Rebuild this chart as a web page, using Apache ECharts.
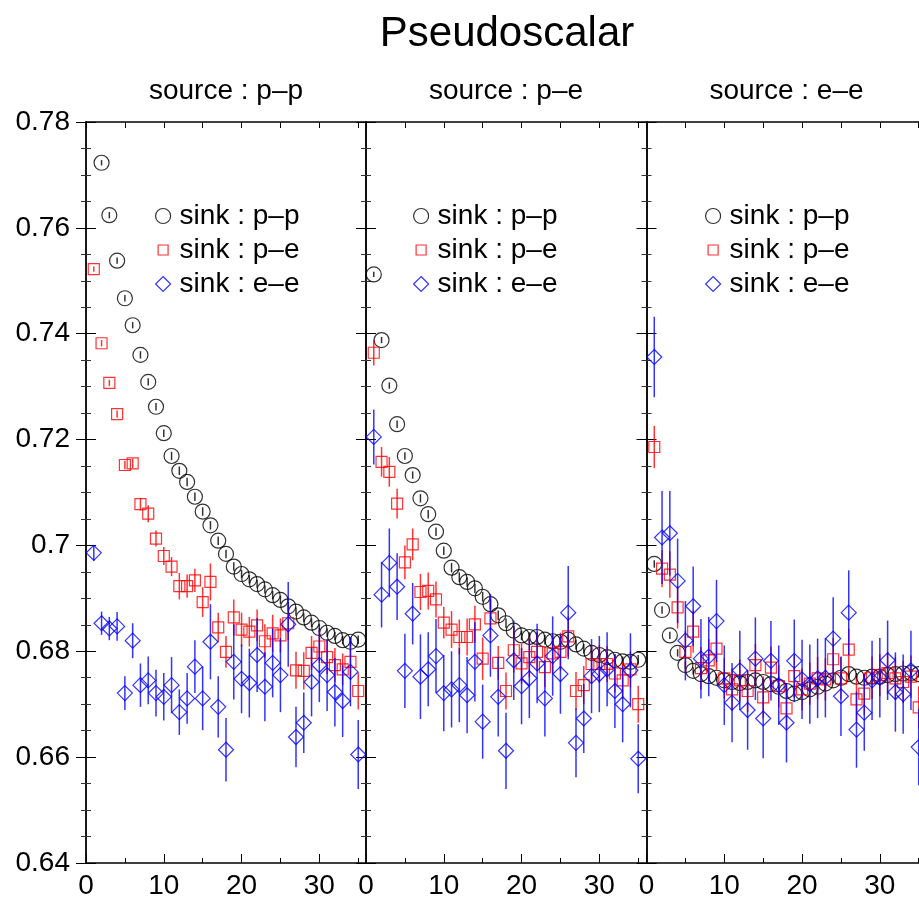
<!DOCTYPE html>
<html>
<head>
<meta charset="utf-8">
<script src="https://cdn.jsdelivr.net/npm/echarts@6/dist/echarts.min.js"></script>
<style>
  html, body { margin: 0; padding: 0; background: #fff; }
  #chart { width: 919px; height: 900px; }
</style>
</head>
<body>
<div id="chart"></div>
<script>
const FONT = '"Liberation Sans", Arial, Helvetica, sans-serif'

// time slices
const tValues = [1, 2, 3, 4, 5, 6, 7, 8, 9, 10, 11, 12, 13, 14, 15, 16, 17, 18, 19, 20,
  21, 22, 23, 24, 25, 26, 27, 28, 29, 30, 31, 32, 33, 34, 35]

const panelTitles = ['source : p\u2013p', 'source : p\u2013e', 'source : e\u2013e']
const sinkNames = ['sink : p\u2013p', 'sink : p\u2013e', 'sink : e\u2013e']
const xTicks = [0, 10, 20, 30]
const yTicks = [0.64, 0.66, 0.68, 0.7, 0.72, 0.74, 0.76, 0.78]

// source p-p
const srcPP_sinkPP = [null, 0.7723, 0.7624, 0.7538, 0.7467, 0.7416, 0.7360, 0.7309, 0.7262, 0.7212,
  0.7169, 0.7141, 0.7120, 0.7092, 0.7064, 0.7038, 0.7009, 0.6984, 0.6960, 0.6946,
  0.6936, 0.6927, 0.6917, 0.6906, 0.6897, 0.6885, 0.6875, 0.6864, 0.6854, 0.6844,
  0.6835, 0.6829, 0.6821, 0.6818, 0.6822]
const srcPP_sinkPPErr = [null, 0.0005, 0.0006, 0.0006, 0.0006, 0.0006, 0.0007, 0.0007, 0.0007, 0.0007,
  0.0008, 0.0008, 0.0008, 0.0008, 0.0008, 0.0008, 0.0008, 0.0008, 0.0008, 0.0008,
  0.0008, 0.0008, 0.0008, 0.0008, 0.0008, 0.0008, 0.0008, 0.0008, 0.0008, 0.0008,
  0.0008, 0.0008, 0.0008, 0.0008, 0.0008]
const srcPP_sinkPE = [0.7522, 0.7382, 0.7307, 0.7248, 0.7152, 0.7155, 0.7078, 0.7060, 0.7013, 0.6980,
  0.6960, 0.6923, 0.6923, 0.6934, 0.6893, 0.6931, 0.6845, 0.6799, 0.6864, 0.6841,
  0.6837, 0.6849, 0.6819, 0.6834, 0.6830, 0.6853, 0.6764, 0.6763, 0.6797, 0.6809,
  0.6789, 0.6774, 0.6766, 0.6780, 0.6725]
const srcPP_sinkPEErr = [0.0005, 0.0006, 0.0006, 0.0007, 0.0008, 0.0009, 0.0012, 0.0016, 0.0015, 0.0017,
  0.0018, 0.0025, 0.0022, 0.0022, 0.0028, 0.0035, 0.0028, 0.0030, 0.0034, 0.0032,
  0.0028, 0.0030, 0.0032, 0.0035, 0.0032, 0.0032, 0.0035, 0.0035, 0.0032, 0.0030,
  0.0032, 0.0032, 0.0030, 0.0033, 0.0035]
const srcPP_sinkEE = [0.6986, 0.6853, 0.6843, 0.6847, 0.6721, 0.6820, 0.6736, 0.6745, 0.6721, 0.6714,
  0.6736, 0.6685, 0.6711, 0.6771, 0.6711, 0.6818, 0.6695, 0.6614, 0.6780, 0.6748,
  0.6740, 0.6793, 0.6733, 0.6778, 0.6755, 0.6851, 0.6638, 0.6665, 0.6742, 0.6774,
  0.6755, 0.6723, 0.6706, 0.6761, 0.6605]
const srcPP_sinkEEErr = [0.0015, 0.0022, 0.0022, 0.0027, 0.0032, 0.0033, 0.0041, 0.0045, 0.0044, 0.0045,
  0.0053, 0.0043, 0.0048, 0.0050, 0.0060, 0.0071, 0.0058, 0.0060, 0.0071, 0.0065,
  0.0065, 0.0070, 0.0065, 0.0065, 0.0070, 0.0080, 0.0057, 0.0057, 0.0065, 0.0070,
  0.0068, 0.0065, 0.0068, 0.0065, 0.0065]

// source p-e
const srcPE_sinkPP = [0.7512, 0.7388, 0.7302, 0.7229, 0.7169, 0.7133, 0.7089, 0.7059, 0.7026, 0.6990,
  0.6958, 0.6940, 0.6931, 0.6919, 0.6903, 0.6889, 0.6868, 0.6853, 0.6839, 0.6830,
  0.6827, 0.6827, 0.6822, 0.6819, 0.6818, 0.6822, 0.6813, 0.6805, 0.6797, 0.6793,
  0.6789, 0.6784, 0.6781, 0.6780, 0.6784]
const srcPE_sinkPPErr = [0.0005, 0.0006, 0.0006, 0.0007, 0.0007, 0.0007, 0.0008, 0.0008, 0.0008, 0.0008,
  0.0009, 0.0009, 0.0009, 0.0009, 0.0009, 0.0009, 0.0009, 0.0009, 0.0009, 0.0009,
  0.0009, 0.0009, 0.0009, 0.0009, 0.0009, 0.0009, 0.0009, 0.0009, 0.0009, 0.0009,
  0.0009, 0.0009, 0.0009, 0.0009, 0.0009]
const srcPE_sinkPE = [0.7364, 0.7158, 0.7139, 0.7079, 0.6968, 0.7002, 0.6912, 0.6914, 0.6898, 0.6854,
  0.6841, 0.6827, 0.6827, 0.6851, 0.6786, 0.6862, 0.6778, 0.6725, 0.6802, 0.6777,
  0.6789, 0.6799, 0.6770, 0.6796, 0.6799, 0.6828, 0.6725, 0.6736, 0.6776, 0.6776,
  0.6776, 0.6758, 0.6745, 0.6766, 0.6700]
const srcPE_sinkPEErr = [0.0024, 0.0028, 0.0028, 0.0028, 0.0032, 0.0030, 0.0034, 0.0035, 0.0034, 0.0030,
  0.0035, 0.0033, 0.0035, 0.0035, 0.0040, 0.0038, 0.0032, 0.0035, 0.0042, 0.0038,
  0.0038, 0.0036, 0.0038, 0.0038, 0.0036, 0.0038, 0.0036, 0.0036, 0.0036, 0.0036,
  0.0034, 0.0036, 0.0035, 0.0034, 0.0035]
const srcPE_sinkEE = [0.7205, 0.6907, 0.6967, 0.6922, 0.6763, 0.6871, 0.6752, 0.6766, 0.6791, 0.6721,
  0.6728, 0.6736, 0.6717, 0.6780, 0.6667, 0.6830, 0.6714, 0.6612, 0.6783, 0.6734,
  0.6749, 0.6777, 0.6711, 0.6791, 0.6757, 0.6873, 0.6627, 0.6673, 0.6753, 0.6757,
  0.6766, 0.6725, 0.6700, 0.6764, 0.6597]
const srcPE_sinkEEErr = [0.0052, 0.0062, 0.0065, 0.0063, 0.0070, 0.0058, 0.0080, 0.0070, 0.0070, 0.0072,
  0.0072, 0.0070, 0.0072, 0.0075, 0.0070, 0.0078, 0.0075, 0.0072, 0.0075, 0.0072,
  0.0075, 0.0075, 0.0072, 0.0075, 0.0075, 0.0088, 0.0065, 0.0065, 0.0070, 0.0072,
  0.0070, 0.0070, 0.0072, 0.0070, 0.0065]

// source e-e
const srcEE_sinkPP = [0.6965, 0.6878, 0.6830, 0.6797, 0.6774, 0.6763, 0.6757, 0.6753, 0.6750, 0.6745,
  0.6742, 0.6740, 0.6742, 0.6745, 0.6742, 0.6738, 0.6733, 0.6725, 0.6720, 0.6723,
  0.6728, 0.6733, 0.6739, 0.6745, 0.6750, 0.6757, 0.6752, 0.6750, 0.6752, 0.6752,
  0.6755, 0.6757, 0.6758, 0.6759, 0.6757]
const srcEE_sinkPPErr = [0.0007, 0.0007, 0.0007, 0.0007, 0.0007, 0.0007, 0.0007, 0.0007, 0.0007, 0.0007,
  0.0007, 0.0007, 0.0007, 0.0007, 0.0007, 0.0007, 0.0007, 0.0007, 0.0007, 0.0007,
  0.0007, 0.0007, 0.0007, 0.0007, 0.0007, 0.0007, 0.0007, 0.0007, 0.0007, 0.0007,
  0.0007, 0.0007, 0.0007, 0.0007, 0.0007]
const srcEE_sinkPE = [0.7186, 0.6956, 0.6945, 0.6883, 0.6799, 0.6837, 0.6768, 0.6783, 0.6805, 0.6749,
  0.6728, 0.6745, 0.6725, 0.6774, 0.6713, 0.6769, 0.6734, 0.6692, 0.6753, 0.6728,
  0.6739, 0.6749, 0.6747, 0.6785, 0.6749, 0.6803, 0.6709, 0.6720, 0.6750, 0.6755,
  0.6759, 0.6749, 0.6742, 0.6752, 0.6694]
const srcEE_sinkPEErr = [0.0040, 0.0035, 0.0044, 0.0040, 0.0040, 0.0040, 0.0040, 0.0040, 0.0040, 0.0038,
  0.0040, 0.0040, 0.0040, 0.0040, 0.0040, 0.0040, 0.0040, 0.0038, 0.0040, 0.0040,
  0.0040, 0.0040, 0.0040, 0.0040, 0.0040, 0.0040, 0.0040, 0.0040, 0.0040, 0.0040,
  0.0040, 0.0040, 0.0040, 0.0040, 0.0040]
const srcEE_sinkEE = [0.7356, 0.7015, 0.7023, 0.6933, 0.6820, 0.6885, 0.6786, 0.6790, 0.6857, 0.6736,
  0.6703, 0.6764, 0.6689, 0.6786, 0.6673, 0.6782, 0.6736, 0.6665, 0.6782, 0.6747,
  0.6738, 0.6749, 0.6750, 0.6824, 0.6715, 0.6873, 0.6652, 0.6684, 0.6745, 0.6750,
  0.6783, 0.6723, 0.6719, 0.6764, 0.6619]
const srcEE_sinkEEErr = [0.0076, 0.0088, 0.0080, 0.0080, 0.0075, 0.0075, 0.0075, 0.0075, 0.0078, 0.0075,
  0.0075, 0.0075, 0.0075, 0.0078, 0.0075, 0.0075, 0.0075, 0.0075, 0.0078, 0.0075,
  0.0075, 0.0075, 0.0075, 0.0078, 0.0075, 0.0080, 0.0072, 0.0072, 0.0075, 0.0075,
  0.0075, 0.0075, 0.0075, 0.0075, 0.0072]

const panels = [
  [[srcPP_sinkPP, srcPP_sinkPPErr], [srcPP_sinkPE, srcPP_sinkPEErr], [srcPP_sinkEE, srcPP_sinkEEErr]],
  [[srcPE_sinkPP, srcPE_sinkPPErr], [srcPE_sinkPE, srcPE_sinkPEErr], [srcPE_sinkEE, srcPE_sinkEEErr]],
  [[srcEE_sinkPP, srcEE_sinkPPErr], [srcEE_sinkPE, srcEE_sinkPEErr], [srcEE_sinkEE, srcEE_sinkEEErr]],
]

const sinkColors = ['#000000', '#ff0000', '#0000ff']
const sinkSymbols = ['circle', 'rect', 'diamond']
const sinkSizes = [15, 11, 15]
const legendIcons = ['circle', 'path://M0,0M15,15M2.5,2.5h10v10h-10z', 'diamond']

const gridLefts = [86, 366, 646.5]
const legendLefts = [155, 413, 705]

const chart = echarts.init(document.getElementById('chart'), null, { renderer: 'canvas' })

const grid = gridLefts.map((left) => ({
  left, top: 122, width: 280, height: 741, outerBoundsMode: 'none', containLabel: false,
}))

const xAxis = []
const yAxis = []
gridLefts.forEach((_, gi) => {
  xAxis.push({
    gridIndex: gi, type: 'value', position: 'bottom', min: 0, max: 36, interval: 10,
    axisLine: { lineStyle: { color: '#000', width: 1.5 } },
    axisTick: { inside: true, length: 9, lineStyle: { color: '#000' } },
    axisLabel: {
      fontSize: 28, fontFamily: FONT, color: '#000', margin: 9,
      formatter: (v) => (xTicks.includes(v) ? String(v) : ''),
    },
    splitLine: { show: false },
  })
  xAxis.push({
    gridIndex: gi, type: 'value', position: 'bottom', min: 0, max: 36, interval: 5,
    axisLine: { show: false },
    axisTick: { inside: true, length: 5, lineStyle: { color: '#000' } },
    axisLabel: { show: false },
    splitLine: { show: false },
  })
  xAxis.push({
    gridIndex: gi, type: 'value', position: 'top', min: 0, max: 36, interval: 5,
    axisLine: { lineStyle: { color: '#000', width: 1.5 } },
    axisTick: { inside: true, length: 6, lineStyle: { color: '#000' } },
    axisLabel: { show: false },
    splitLine: { show: false },
  })
  ;['left', 'right'].forEach((position) => {
    const outer = gi === 0 && position === 'left'
    yAxis.push({
      gridIndex: gi, type: 'value', position, min: 0.64, max: 0.78, interval: 0.02,
      axisLine: { show: true, lineStyle: { color: outer ? '#666' : '#000', width: outer ? 2 : 1.5 } },
      axisTick: { show: true, inside: true, length: 10, lineStyle: { color: '#000' } },
      minorTick: { show: true, splitNumber: 4, length: 5, lineStyle: { color: '#333' } },
      axisLabel: {
        show: outer, fontSize: 28, fontFamily: FONT, color: '#000', margin: 16,
        formatter: (v) => {
          const hit = yTicks.find((t) => Math.abs(t - v) < 1e-9)
          return hit === undefined ? '' : String(hit)
        },
      },
      splitLine: { show: false },
    })
  })
})

const series = []
panels.forEach((sinks, gi) => {
  sinks.forEach(([values, errs], si) => {
    const color = sinkColors[si]
    const bars = []
    const points = []
    tValues.forEach((t, k) => {
      if (values[k] == null) return
      points.push([t, values[k]])
      bars.push([t, values[k] - errs[k], values[k] + errs[k]])
    })
    series.push({
      type: 'custom',
      xAxisIndex: gi * 3,
      yAxisIndex: gi * 2,
      silent: true,
      z: 2 + si,
      data: bars,
      renderItem: (params, api) => {
        const lo = api.coord([api.value(0), api.value(1)])
        const hi = api.coord([api.value(0), api.value(2)])
        return {
          type: 'line',
          shape: { x1: lo[0], y1: lo[1], x2: hi[0], y2: hi[1] },
          style: { stroke: color, lineWidth: 1.5, opacity: 0.8 },
        }
      },
    })
    series.push({
      name: sinkNames[si],
      type: 'scatter',
      xAxisIndex: gi * 3,
      yAxisIndex: gi * 2,
      symbol: sinkSymbols[si],
      symbolSize: sinkSizes[si],
      z: 2 + si,
      itemStyle: { color: 'rgba(0,0,0,0)', borderColor: color, borderWidth: 1.2 },
      data: points,
    })
  })
})

const title = [{
  text: 'Pseudoscalar', left: 507, top: 13, textAlign: 'center', padding: 0,
  textStyle: { fontSize: 42, fontWeight: 'normal', fontFamily: FONT, color: '#000' },
}].concat(panelTitles.map((text, gi) => ({
  text, left: gridLefts[gi] + 140, top: 77, textAlign: 'center', padding: 0,
  textStyle: { fontSize: 28, fontWeight: 'normal', fontFamily: FONT, color: '#000' },
})))

const legend = legendLefts.map((left) => ({
  left, top: 202, orient: 'vertical', itemWidth: 15, itemHeight: 15, itemGap: 6,
  padding: 0,
  selectedMode: false,
  textStyle: { fontSize: 28, fontFamily: FONT, color: '#000', padding: [0, 0, 0, 4] },
  data: sinkNames.map((name, si) => ({
    name,
    icon: legendIcons[si],
    itemStyle: { color: 'rgba(0,0,0,0)', borderColor: sinkColors[si], borderWidth: 1.2 },
  })),
}))

chart.setOption({
  animation: false,
  backgroundColor: '#fff',
  title,
  legend,
  grid,
  xAxis,
  yAxis,
  series,
})
</script>
</body>
</html>
